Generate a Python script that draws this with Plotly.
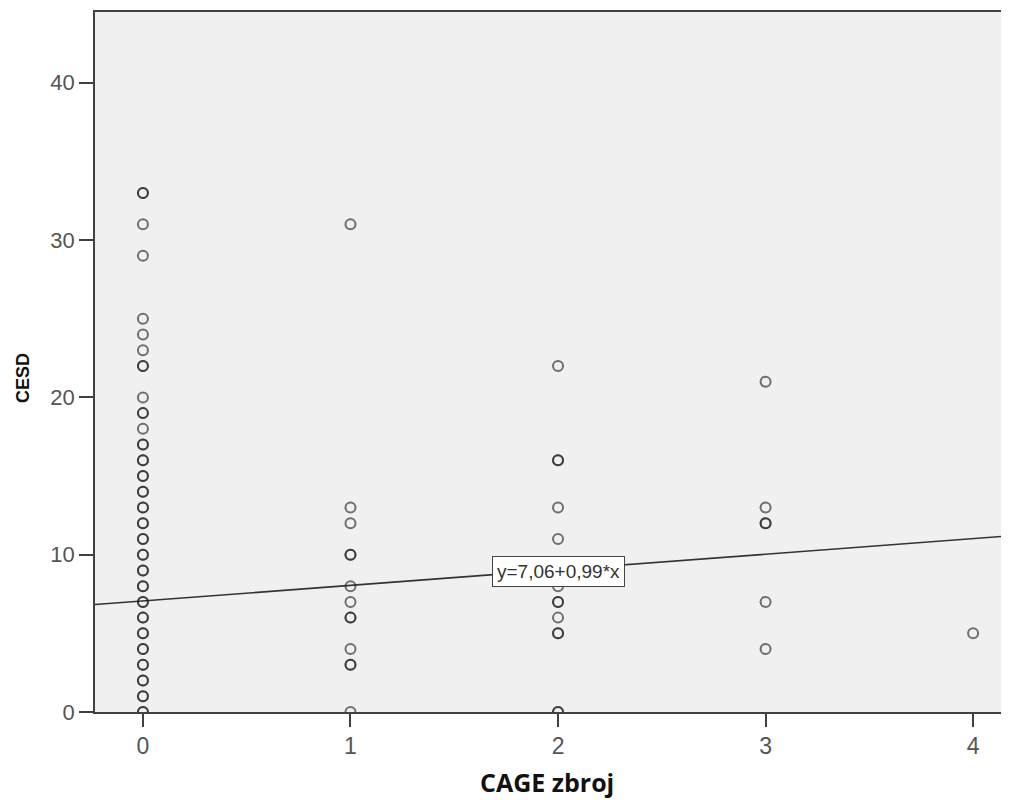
import plotly.graph_objects as go

cage_0 = [0] * 47
cesd_0 = [0, 0, 1, 1, 2, 2, 3, 3, 4, 4, 5, 5, 6, 6, 7, 7, 8, 8, 9, 9, 10, 10,
          11, 11, 12, 12, 13, 13, 14, 14, 15, 15, 16, 16, 17, 17, 18, 19, 19,
          20, 22, 22, 23, 24, 25, 29, 31]
cage_0b = [0, 0]
cesd_0b = [33, 33]
cage_1 = [1] * 13
cesd_1 = [31, 13, 12, 10, 10, 8, 7, 6, 6, 4, 3, 3, 0]
cage_2 = [2] * 14
cesd_2 = [22, 16, 16, 13, 11, 9, 8, 7, 7, 6, 5, 5, 0, 0]
cage_3 = [3] * 6
cesd_3 = [21, 13, 12, 12, 7, 4]
cage_4 = [4]
cesd_4 = [5]

intercept = 7.06
slope = 0.99
x_range = [-0.231, 4.173]
y_range = [0, 44.5]
x_ticks = [0, 1, 2, 3, 4]
y_ticks = [0, 10, 20, 30, 40]
fit_label = "y=7,06+0,99*x"
x_title = "CAGE zbroj"
y_title = "CESD"

xs = cage_0 + cage_0b + cage_1 + cage_2 + cage_3 + cage_4
ys = cesd_0 + cesd_0b + cesd_1 + cesd_2 + cesd_3 + cesd_4

fig = go.Figure()
line_x = x_range
line_y = [intercept + slope * v for v in line_x]
fig.add_trace(go.Scatter(x=line_x, y=line_y, mode="lines",
                         line=dict(color="#333333", width=1.6),
                         hoverinfo="skip", showlegend=False))
fig.add_trace(go.Scatter(x=xs, y=ys, mode="markers",
                         marker=dict(symbol="circle-open", size=10,
                                     color="rgba(30,30,30,0.62)",
                                     line=dict(width=2)),
                         showlegend=False))

fig.add_annotation(x=2, y=intercept + slope * 2 - 0.1, text=fit_label, showarrow=False,
                   font=dict(family="Arial, Liberation Sans", size=19, color="#333333"),
                   bgcolor="white", bordercolor="#444444", borderwidth=1, borderpad=4)

fig.add_annotation(xref="paper", yref="paper", x=0.495, y=0, yshift=-70,
                   xanchor="center", yanchor="middle", showarrow=False,
                   text="<b>" + x_title + "</b>",
                   font=dict(family="Open Sans", size=25, color="#111111"))
fig.add_annotation(xref="paper", yref="paper", x=0, y=0.477, xshift=-72,
                   xanchor="center", yanchor="middle", showarrow=False, textangle=-90,
                   text="<b>" + y_title + "</b>",
                   font=dict(family="Arial, Liberation Sans", size=18, color="#111111"))

fig.update_xaxes(range=x_range, tickvals=x_ticks, ticks="outside", ticklen=13,
                 tickwidth=1.5, tickcolor="#404040", showline=True, linecolor="#404040",
                 linewidth=1.5, mirror=True, showgrid=False, zeroline=False,
                 tickfont=dict(family="Arial, Liberation Sans", size=23, color="#555555"))
fig.update_yaxes(range=y_range, tickvals=y_ticks, ticks="outside", ticklen=14,
                 tickwidth=1.5, tickcolor="#404040", showline=True, linecolor="#404040",
                 linewidth=1.5, showgrid=False, zeroline=False,
                 tickfont=dict(family="Arial, Liberation Sans", size=22, color="#555555"))

fig.update_layout(width=1001, height=792, margin=dict(l=87, r=0, t=4, b=88),
                  plot_bgcolor="#f0f0f0", paper_bgcolor="white")

fig.write_html("out.html")
